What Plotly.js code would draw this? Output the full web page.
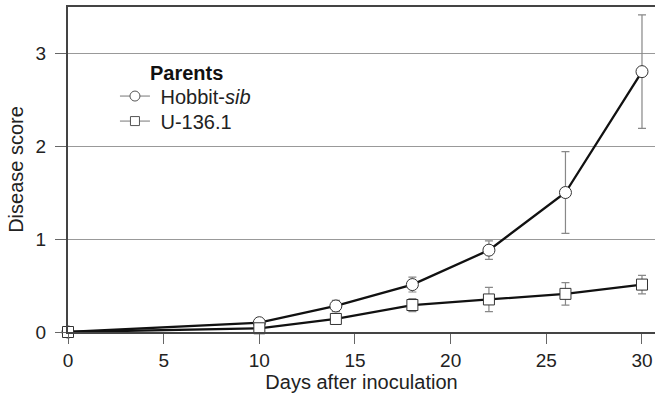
<!DOCTYPE html>
<html><head><meta charset="utf-8">
<script src="https://cdn.plot.ly/plotly-3.0.1.min.js"></script>
<style>body{margin:0;background:#fff}#c{width:657px;height:399px}</style>
</head><body><div id="c"></div>
<script>
var days = [0, 10, 14, 18, 22, 26, 30];
var hobbit = [0, 0.10, 0.28, 0.51, 0.88, 1.50, 2.80];
var hobbitErr = [0, 0.02, 0.06, 0.08, 0.10, 0.44, 0.61];
var u136 = [0, 0.04, 0.14, 0.29, 0.35, 0.41, 0.51];
var u136Err = [0, 0.02, 0.03, 0.07, 0.13, 0.12, 0.10];
var xTicks = [0, 5, 10, 15, 20, 25, 30];
var yTicks = [0, 1, 2, 3];
var names = ['&nbsp;Hobbit-<i>sib</i>', '&nbsp;U-136.1'];
var legendTitle = '<b>Parents</b>';

var font = {family: 'Liberation Sans, Arial, sans-serif', size: 19, color: '#222'};
function tr(y, err, sym) {
  return {x: days, y: y, type: 'scatter', mode: 'lines+markers', cliponaxis: false, showlegend: false,
    line: {color: '#111', width: 2.3},
    marker: {symbol: sym, size: sym === 'circle' ? 12 : 11, color: '#fff', line: {width: 1, color: '#333'}},
    error_y: {type: 'data', array: err, visible: true, color: '#888', thickness: 1.2, width: 4}};
}
function leg(name, sym, lg) {
  return {x: [null], y: [null], name: name, legend: lg, type: 'scatter', mode: 'lines+markers',
    line: {color: '#777', width: 1},
    marker: {symbol: sym, size: sym === 'circle' ? 10 : 9, color: '#fff', line: {width: 1, color: '#555'}}};
}
var data = [tr(hobbit, hobbitErr, 'circle'), tr(u136, u136Err, 'square'),
            leg(names[0], 'circle', 'legend'), leg(names[1], 'square', 'legend2')];

function legBox(y) {
  return {x: 0.08, y: y, xanchor: 'left', yanchor: 'middle', bgcolor: 'rgba(0,0,0,0)',
    itemwidth: 30, font: {size: 20}};
}
var layout = {
  width: 657, height: 399,
  margin: {l: 68, r: 2, t: 7, b: 67},
  paper_bgcolor: '#fff', plot_bgcolor: '#fff',
  font: font,
  showlegend: true,
  legend: legBox(0.726),
  legend2: legBox(0.649),
  annotations: [{text: legendTitle, xref: 'paper', yref: 'paper', x: 0.137, y: 0.797,
    xanchor: 'left', yanchor: 'middle', showarrow: false, font: {size: 20, color: '#111'}}],
  xaxis: {range: [0, 30.68], tickvals: xTicks, ticks: 'outside', ticklen: 10, tickcolor: '#666', tickwidth: 1,
    showline: true, linecolor: '#444', linewidth: 2, mirror: true, showgrid: false, zeroline: false,
    tickfont: {size: 19},
    title: {text: 'Days after inoculation', font: {size: 20}, standoff: 4}},
  yaxis: {range: [0, 3.495], tickvals: yTicks, ticks: 'outside', ticklen: 11, tickcolor: '#666', tickwidth: 1,
    ticklabelstandoff: 5, tickfont: {size: 19},
    showline: true, linecolor: '#444', linewidth: 2, showgrid: true, gridcolor: '#999', gridwidth: 1.3, zeroline: false,
    title: {text: 'Disease score', font: {size: 20}, standoff: 7}}
};
Plotly.newPlot('c', data, layout, {displayModeBar: false});
</script></body></html>
